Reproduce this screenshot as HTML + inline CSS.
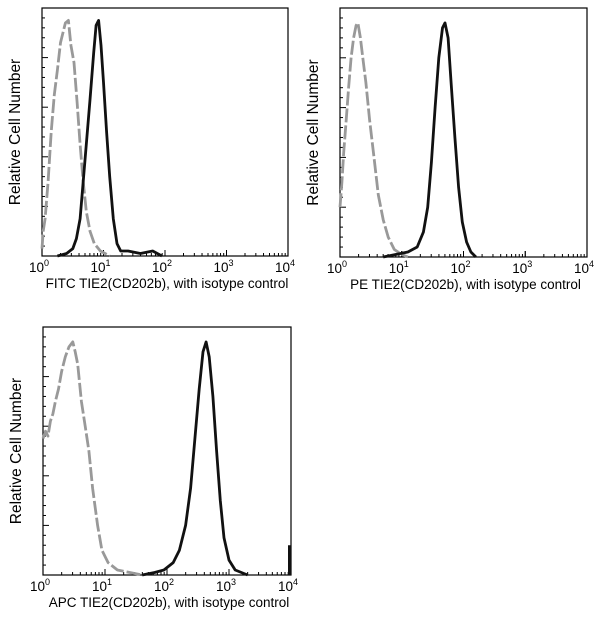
<!DOCTYPE html>
<html><head><meta charset="utf-8"><style>
body{margin:0;background:#fff;}
svg{display:block;font-family:"Liberation Sans",Arial,sans-serif;}
</style></head><body>
<svg id="fig" width="600" height="627" viewBox="0 0 600 627"></svg>
<script>
// Panel data: log10 fluorescence and relative count (fraction of plot height)
const fitcIsoX=[0,0.02,0.05,0.1,0.15,0.2,0.25,0.3,0.38,0.43,0.47,0.52,0.57,0.62,0.67,0.72,0.78,0.85,0.95,1.1];
const fitcIsoY=[0.03,0.1,0.15,0.3,0.5,0.65,0.75,0.86,0.94,0.95,0.85,0.78,0.62,0.45,0.3,0.18,0.1,0.05,0.02,0];
const fitcStainX=[0.25,0.4,0.5,0.56,0.62,0.67,0.72,0.78,0.84,0.88,0.92,0.96,1.0,1.05,1.1,1.16,1.22,1.28,1.4,1.6,1.8,1.95];
const fitcStainY=[0,0.01,0.03,0.07,0.15,0.3,0.45,0.63,0.82,0.93,0.95,0.85,0.7,0.5,0.32,0.15,0.05,0.02,0.02,0.01,0.02,0];
const peIsoX=[0,0.03,0.06,0.1,0.14,0.18,0.22,0.26,0.29,0.33,0.37,0.42,0.48,0.55,0.62,0.7,0.78,0.88,1.0,1.1];
const peIsoY=[0.2,0.3,0.42,0.55,0.68,0.8,0.88,0.93,0.94,0.88,0.8,0.7,0.55,0.4,0.25,0.15,0.08,0.03,0.01,0];
const peStainX=[0.7,0.9,1.1,1.25,1.35,1.42,1.48,1.54,1.6,1.66,1.7,1.75,1.8,1.86,1.92,1.98,2.05,2.12,2.2];
const peStainY=[0,0.01,0.02,0.04,0.1,0.2,0.38,0.6,0.8,0.92,0.94,0.88,0.7,0.48,0.28,0.14,0.06,0.02,0];
const apcIsoX=[0,0.04,0.08,0.12,0.16,0.2,0.25,0.3,0.36,0.42,0.48,0.52,0.56,0.62,0.68,0.74,0.8,0.88,0.95,1.05,1.2,1.4,1.6];
const apcIsoY=[0.55,0.58,0.56,0.62,0.65,0.7,0.75,0.82,0.88,0.92,0.94,0.9,0.85,0.7,0.6,0.5,0.35,0.2,0.1,0.05,0.02,0.01,0];
const apcStainX=[1.6,1.8,1.95,2.1,2.2,2.3,2.38,2.45,2.52,2.58,2.63,2.68,2.74,2.8,2.86,2.92,3.0,3.1,3.2,3.3];
const apcStainY=[0,0.01,0.02,0.05,0.1,0.2,0.35,0.55,0.75,0.9,0.94,0.88,0.72,0.5,0.3,0.15,0.06,0.02,0.01,0];
const tickLabels=["0","1","2","3","4"];

const NS="http://www.w3.org/2000/svg";
const svg=document.getElementById('fig');
function mk(tag,attrs,parent){const e=document.createElementNS(NS,tag);for(const k in attrs)e.setAttribute(k,attrs[k]);(parent||svg).appendChild(e);return e;}

function panel(id,L,R,T,B,title,isoX,isoY,stX,stY,spike){
  const g=mk('g',{});
  
  
  const sx=v=>L+(R-L)*v/4, sy=f=>B-(B-T)*f;
  const box=mk('rect',{x:L,y:T,width:R-L,height:B-T,fill:'none',stroke:'#000','stroke-width':1.2},g);
  
  
  for(let i=0;i<=25;i++){const y=sy(i/25);const len=i%5===0?6:3;
    const t=mk('line',{x1:L,x2:L+len,y1:y,y2:y,stroke:'#000','stroke-width':1},g);
    
    }
  for(let d=0;d<4;d++){for(let m=1;m<=10;m++){const x=sx(d+Math.log10(m));const len=(m===1||m===10)?6:3;
    const t=mk('line',{x1:x,x2:x,y1:B,y2:B-len,stroke:'#000','stroke-width':1},g);
    
    }}
  tickLabels.forEach((s,i)=>{const tx=mk('text',{x:sx(i)-3,y:B+16,'text-anchor':'middle','font-size':13.5},g);
    
    
    tx.textContent='10';const sp=mk('tspan',{'font-size':9,dy:-6},tx);sp.textContent=s;});
  const xt=mk('text',{x:(L+R)/2+2,y:B+32,'text-anchor':'middle','font-size':13.5},g);
  
  
  xt.textContent=title;
  const yc=(T+B)/2;
  const yt=mk('text',{x:L-22,y:yc,'text-anchor':'middle','font-size':15.5,transform:`rotate(-90 ${L-22} ${yc})`},g);
  
  
  yt.textContent='Relative Cell Number';
  const pts=(X,Y)=>X.map((v,i)=>sx(v).toFixed(1)+','+sy(Y[i]).toFixed(1)).join(' ');
  const iso=mk('polyline',{points:pts(isoX,isoY),fill:'none',stroke:'#999','stroke-width':2.8,'stroke-dasharray':'14,3','stroke-linejoin':'round'},g);
  
  
  const st=mk('polyline',{points:pts(stX,stY),fill:'none',stroke:'#111','stroke-width':2.8,'stroke-linejoin':'round'},g);
  
  
  if(spike){const s=mk('line',{x1:R-1.5,x2:R-1.5,y1:B,y2:sy(spike),stroke:'#111','stroke-width':3},g);
    
    }
}
panel('fitc',42,288,8,256,'FITC TIE2(CD202b),  with isotype control',fitcIsoX,fitcIsoY,fitcStainX,fitcStainY,0);
panel('pe',340,587,8,257,'PE TIE2(CD202b),  with isotype control',peIsoX,peIsoY,peStainX,peStainY,0);
panel('apc',43,291,327,575,'APC TIE2(CD202b), with isotype control',apcIsoX,apcIsoY,apcStainX,apcStainY,0.12);
</script>
</body></html>
